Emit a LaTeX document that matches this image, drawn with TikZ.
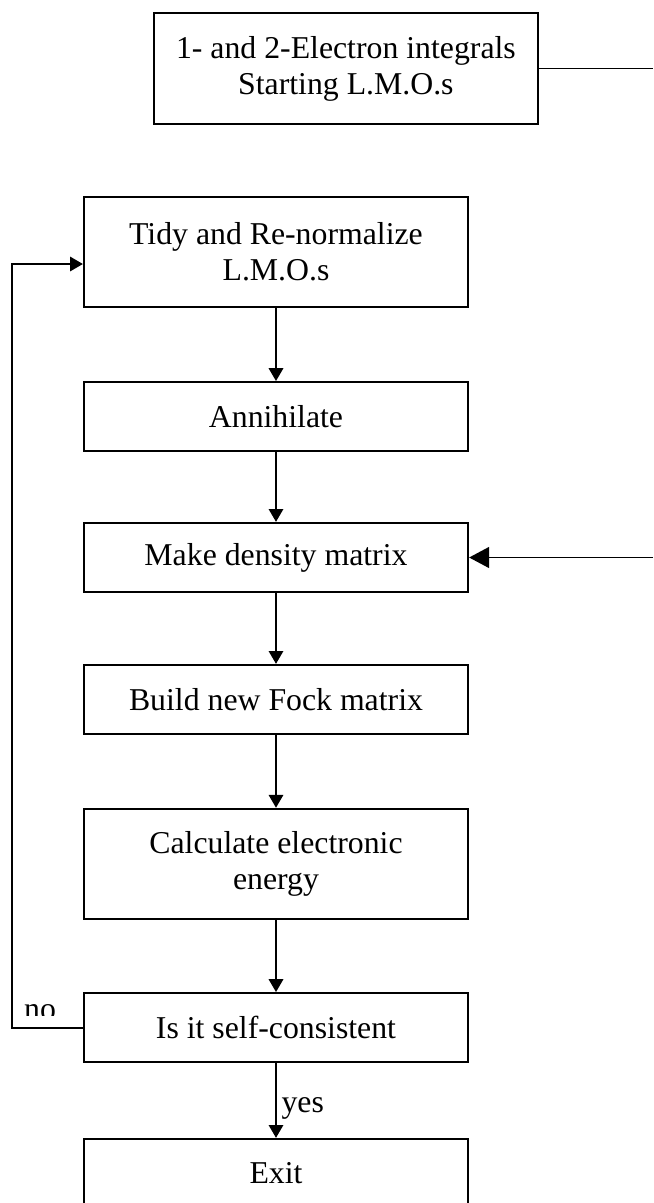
\documentclass[tikz,border=0pt]{standalone}
\usepackage{fontspec}
\setmainfont{Liberation Serif}
\usetikzlibrary{arrows.meta,positioning}

\tikzset{
  stepbox/.style={draw, line width=1.5pt, minimum width=9.6cm, align=center, inner sep=0pt},
  onebox/.style={stepbox, minimum height=1.73cm},
  twobox/.style={stepbox, minimum height=2.76cm},
  flow/.style={line width=1.3pt, -{Triangle[length=0.32cm, width=0.36cm]}},
  bigflow/.style={line width=1.3pt, -{Triangle[length=0.5cm, width=0.52cm]}},
}

\begin{document}
\begin{tikzpicture}[x=0.025cm, y=-0.025cm, font=\fontsize{22.6}{25.6}\selectfont]
\useasboundingbox (0,0) rectangle (653,1203);
% boxes
\node[twobox] (init) at (345.9,68.5) {1- and 2-Electron integrals\\Starting L.M.O.s};
\node[twobox] (tidy) at (276,252) {Tidy and Re-normalize\\L.M.O.s};
\node[onebox] (annih) at (276,416.7) {Annihilate};
\node[onebox] (dens) at (276,557.5) {Make density matrix};
\node[onebox] (fock) at (276,699.5) {Build new Fock matrix};
\node[twobox] (energy) at (276,864) {Calculate electronic\\energy};
\node[onebox] (scf) at (276,1027.7) {Is it self-consistent};
\node[onebox] (exit) at (276,1173.5) {Exit};
% free ends and bends
\coordinate (offA) at (653,68.5);
\coordinate (offB) at (653,557.5);
\coordinate (loopx) at (12.3,0);
\coordinate (tidyin) at ([yshift=-0.3cm]tidy.west);
% connectors
\draw[line width=1.3pt] (init.east) -- (offA);
\draw[bigflow] (offB) -- (dens.east);
\draw[flow] (tidy.south) -- (annih.north);
\draw[flow] (annih.south) -- (dens.north);
\draw[flow] (dens.south) -- (fock.north);
\draw[flow] (fock.south) -- (energy.north);
\draw[flow] (energy.south) -- (scf.north);
\draw[flow] (scf.south) -- (exit.north) node[right, pos=0.6] (yeslab) {yes};
\draw[flow] (scf.west) -- (scf.west -| loopx) -- (loopx |- tidyin) -- (tidyin);
\begin{scope}
\clip (0,0) rectangle (100,1015);
\node[anchor=base] (nolab) at (40,1019) {no};
\end{scope}
\end{tikzpicture}
\end{document}
